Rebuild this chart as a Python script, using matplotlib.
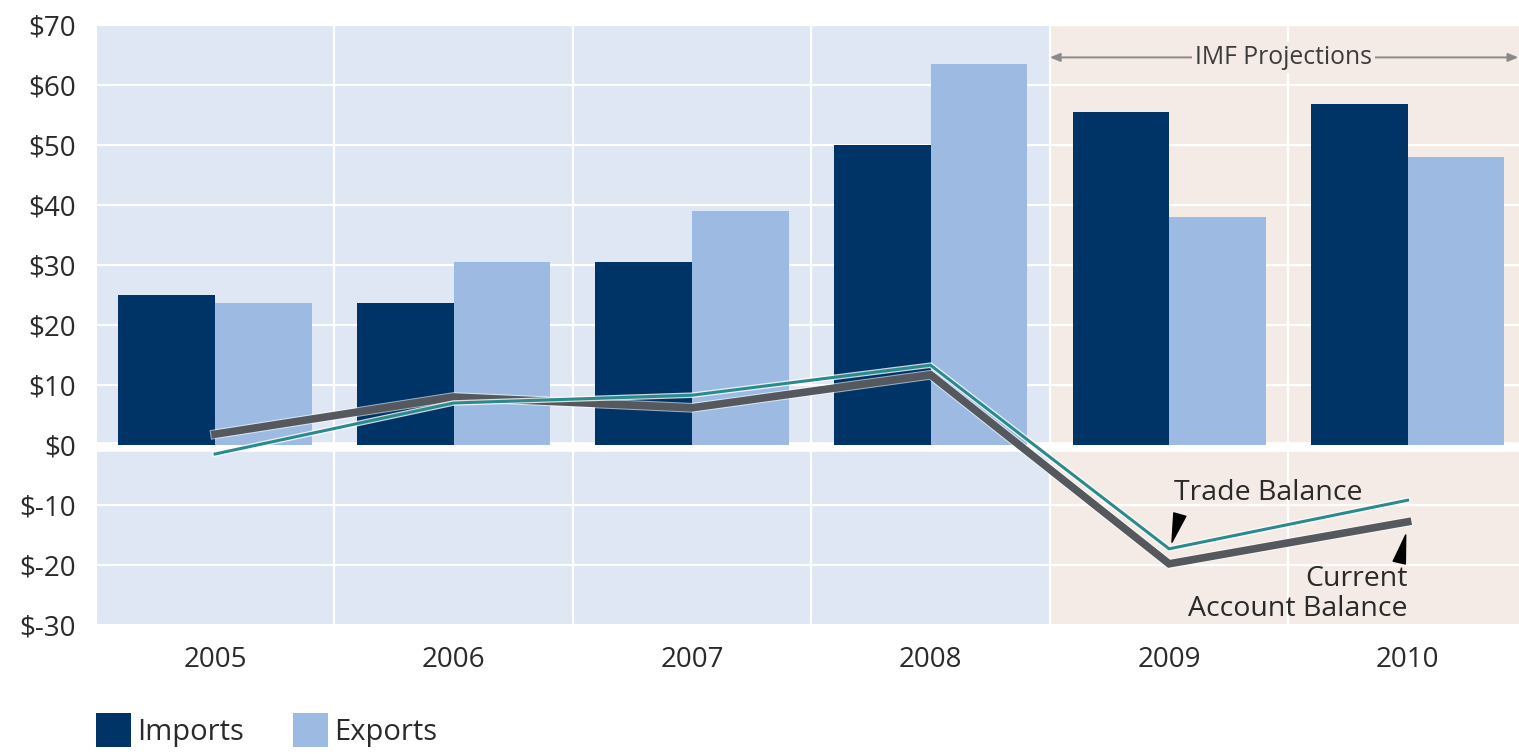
import matplotlib
matplotlib.use("Agg")
from matplotlib import pyplot as plt
from matplotlib.patches import Patch
import matplotlib.patheffects as pe
import numpy as np

plt.rcParams['font.family'] = ['Open Sans', 'DejaVu Sans']

# data (billions of US$)
years = ["2005", "2006", "2007", "2008", "2009", "2010"]
imports = [25.0, 23.7, 30.5, 50.0, 55.5, 56.8]
exports = [23.7, 30.5, 39.0, 63.5, 38.0, 48.0]
current_account = [1.8, 8.0, 6.2, 11.7, -19.8, -12.8]
trade_balance = [-1.5, 7.0, 8.3, 13.3, -17.3, -9.2]
y_ticks = [70, 60, 50, 40, 30, 20, 10, 0, -10, -20, -30]
first_projection = 4  # 2009 onward are IMF projections

navy = "#003366"
light = "#9dbbe2"
bg_blue = "#dfe7f5"
bg_beige = "#f4ebe6"
gray_line = "#55585d"
teal = "#2b8a8c"
txt = "#2a2a2a"

fig = plt.figure(figsize=(15.19, 7.54), dpi=100)
ax = fig.add_axes([97 / 1519, 1 - 625 / 754, 1 - 97 / 1519, (625 - 25) / 754])

x = np.arange(len(years))
w = 0.405
xmin, xmax = -0.495, 5.467
ax.set_xlim(xmin, xmax)
ax.set_ylim(-30, 70)

# shaded backgrounds: actual vs projection
ax.axvspan(xmin, first_projection - 0.5, color=bg_blue, zorder=0, lw=0)
ax.axvspan(first_projection - 0.5, xmax, color=bg_beige, zorder=0, lw=0)

# white grid
for v in y_ticks:
    ax.axhline(v, color="white", lw=1.6, zorder=1)
ax.axhline(-0.4, color="white", lw=7, zorder=1)
for b in x[:-1] + 0.5:
    ax.axvline(b, color="white", lw=1.6, zorder=1)

ax.bar(x - w / 2, imports, w, color=navy, zorder=2)
ax.bar(x + w / 2, exports, w, color=light, zorder=2)

ax.plot(x, current_account, color=gray_line, lw=5.5, zorder=3,
        solid_joinstyle="miter",
        path_effects=[pe.Stroke(linewidth=7, foreground="white", alpha=0.6), pe.Normal()])
ax.plot(x, trade_balance, color=teal, lw=2.2, zorder=4,
        solid_joinstyle="miter",
        path_effects=[pe.Stroke(linewidth=4, foreground="white", alpha=0.8), pe.Normal()])

# annotations
wedge = dict(arrowstyle="wedge,tail_width=0.9,shrink_factor=0.5",
             color="black", shrinkA=0, shrinkB=0)
ax.text(4.02, -8.0, "Trade Balance", fontsize=20.5, color=txt, ha="left", va="center")
ax.annotate("", xy=(4.012, -16.2), xytext=(4.045, -11.6), arrowprops=wedge)
ax.text(5.0, -22.3, "Current", fontsize=20.5, color=txt, ha="right", va="center")
ax.text(5.0, -27.3, "Account Balance", fontsize=20.5, color=txt, ha="right", va="center")
ax.annotate("", xy=(4.992, -15.0), xytext=(4.965, -19.6), arrowprops=wedge)

# IMF projections bracket
ax.annotate("", xy=(first_projection - 0.5, 64.6), xytext=(xmax - 0.003, 64.6),
            arrowprops=dict(arrowstyle="<|-|>,head_length=0.6,head_width=0.25",
                            color="#8a8a8a", lw=1.4, shrinkA=0, shrinkB=0), zorder=5)
ax.text(4.48, 64.6, "IMF Projections", fontsize=17.8, color="#3c3c3c",
        ha="center", va="center", zorder=6,
        bbox=dict(facecolor=bg_beige, edgecolor="none", pad=2))

ax.set_xticks(x)
ax.set_xticklabels(years, fontsize=20, color=txt)
ax.set_yticks(y_ticks)
ax.set_yticklabels(["$%d" % v for v in y_ticks], fontsize=20, color=txt)
ax.tick_params(length=0)
ax.tick_params(axis="x", pad=15)
ax.tick_params(axis="y", pad=15)
for s in ax.spines.values():
    s.set_visible(False)

handles = [Patch(facecolor=navy, label="Imports"), Patch(facecolor=light, label="Exports")]
fig.legend(handles=handles, loc="lower left", bbox_to_anchor=(0.046, -0.026),
           ncol=2, frameon=False, fontsize=21, handlelength=1.2, handleheight=1.45,
           handletextpad=0.2, columnspacing=1.7, labelcolor=txt)

fig.savefig("out.png", dpi=100, facecolor="white")
